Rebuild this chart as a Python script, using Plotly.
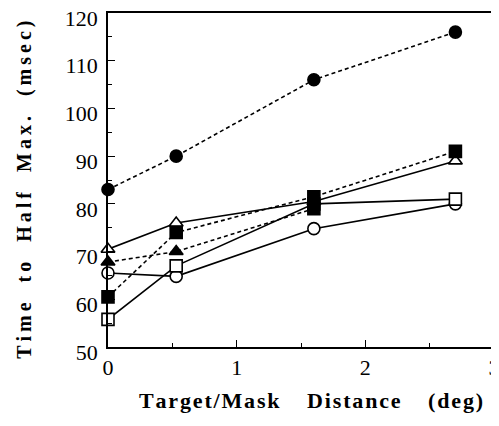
import plotly.graph_objects as go

# Data
x_pos = [0, 0.53, 1.6, 2.7]
filled_circle = [83, 90, 106, 116]
filled_square = [60.5, 74, 81.5, 91]
filled_triangle = [67.8, 70, 79]
open_triangle = [70.5, 76, 80.5, 89]
open_square = [55.8, 67, 80, 81]
open_circle = [65.5, 64.8, 74.8, 80]

x_ticks = [0, 1, 2, 3]
y_ticks = [50, 60, 70, 80, 90, 100, 110, 120]

fig = go.Figure()

def add(y, symbol, dash, fill):
    xs = x_pos[:len(y)]
    fig.add_trace(go.Scatter(
        x=xs, y=y, mode="lines+markers",
        line=dict(color="black", width=1.6, dash=dash),
        marker=dict(symbol=symbol, size=12, color=fill,
                    line=dict(color="black", width=1.6)),
        showlegend=False, cliponaxis=False))

# solid series first (drawn under)
add(open_circle, "circle", "solid", "white")
add(open_square, "square", "solid", "white")
add(open_triangle, "triangle-up", "solid", "white")
add(filled_triangle, ["triangle-up", "triangle-up", "square"], "4px,3px", "black")
add(filled_square, "square", "4px,3px", "black")
add(filled_circle, "circle", "4px,3px", "black")

font_family = "Liberation Serif"
# page body has an 8px default margin, so the figure is sized/placed to compensate
fig.update_layout(
    width=491, height=418,
    margin=dict(l=100, r=5, t=5, b=79, autoexpand=False),
    paper_bgcolor="white", plot_bgcolor="white",
    font=dict(family=font_family, color="black"),
)
fig.update_xaxes(
    range=[0, 3], tickvals=x_ticks, ticktext=[str(v) for v in x_ticks],
    ticks="inside", ticklen=7, tickwidth=1.3, tickcolor="black",
    minor=dict(dtick=0.5, ticks="inside", ticklen=4, tickwidth=1.3, tickcolor="black"),
    showline=True, linecolor="black", linewidth=1.6, mirror=True,
    showgrid=False, zeroline=False, automargin=False,
    ticklabeloverflow="allow",
    tickfont=dict(size=22, family=font_family),
)
fig.update_yaxes(
    range=[50, 120], tickvals=y_ticks, ticktext=[str(v) for v in y_ticks],
    ticks="inside", ticklen=7, tickwidth=1.3, tickcolor="black",
    minor=dict(dtick=5, ticks="inside", ticklen=4, tickwidth=1.3, tickcolor="black"),
    showline=True, linecolor="black", linewidth=1.6, mirror=True,
    showgrid=False, zeroline=False, automargin=False,
    ticklabeloverflow="allow", ticklabelshift=5,
    tickfont=dict(size=22, family=font_family), ticklabelstandoff=4,
)

def spaced(words, gap, ts):
    return gap.join(ts.join(w) for w in words)

fig.add_annotation(
    text="<b>" + spaced(["Target/Mask", "Distance", "(deg)"], "\u00a0" * 5, "\u200a") + "</b>",
    xref="paper", yref="paper", x=0.526, y=-0.159, xanchor="center", yanchor="middle",
    showarrow=False, font=dict(size=22, family=font_family))
fig.add_annotation(
    text="<b>" + spaced(["Time", "to", "Half", "Max.", "(msec)"], "\u00a0" * 4, "\u2009") + "</b>",
    xref="paper", yref="paper", x=-0.218, y=0.47, xanchor="center", yanchor="middle",
    textangle=-90, showarrow=False, font=dict(size=20, family=font_family))

fig.write_html("out.html")
